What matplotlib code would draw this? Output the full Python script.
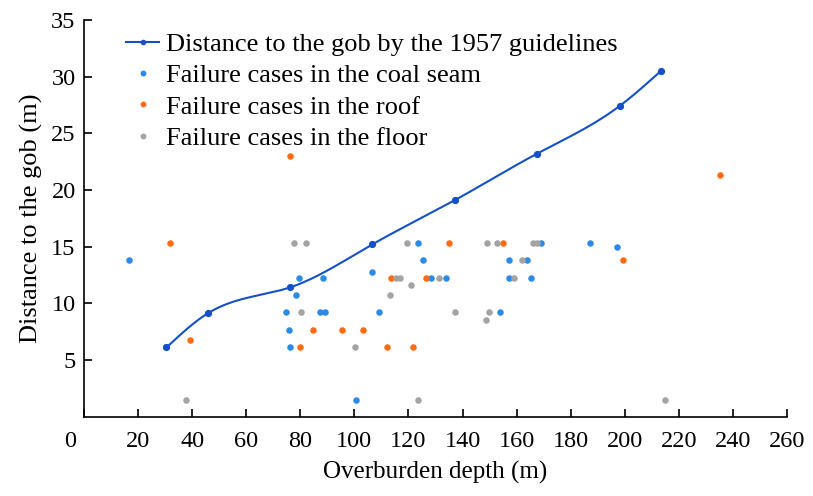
import numpy as np
import matplotlib
matplotlib.use("Agg")
import matplotlib.pyplot as plt
import matplotlib.transforms as mtransforms

plt.rcParams['font.family'] = ['Liberation Serif', 'DejaVu Serif']

# 1957 guideline curve (depth m, distance m)
Guide_depth = [30.5, 45.7, 76.2, 106.7, 137.2, 167.6, 198.1, 213.4]
Guide_dist = [6.1, 9.1, 11.4, 15.2, 19.1, 23.2, 27.4, 30.5]

# failure cases in the coal seam
Coal_depth = [16.8, 74.6, 75.9, 76.2, 78.4, 79.4, 87.3, 88.3, 89.1, 100.5, 106.4, 109.1,
              123.7, 125.2, 128.2, 133.9, 153.8, 157.3, 157.3, 163.7, 165.2, 169.2, 187.3, 197.1]
Coal_dist = [13.8, 9.2, 7.6, 6.1, 10.7, 12.2, 9.2, 12.2, 9.2, 1.5, 12.8, 9.2,
             15.3, 13.8, 12.2, 12.2, 9.2, 13.8, 12.2, 13.8, 12.2, 15.3, 15.3, 15.0]

# failure cases in the roof
Roof_depth = [31.7, 39.2, 76.2, 79.9, 84.6, 95.4, 103.3, 112.2, 113.4, 121.8, 126.4,
              135.1, 155.1, 199.2, 235.2]
Roof_dist = [15.3, 6.8, 23.0, 6.1, 7.6, 7.6, 7.6, 6.1, 12.2, 6.1, 12.2,
             15.3, 15.3, 13.8, 21.3]

# failure cases in the floor
Floor_depth = [37.8, 77.8, 80.2, 82.1, 100.2, 113.2, 115.5, 116.8, 119.3, 121.0, 123.4,
               131.4, 137.4, 148.6, 149.2, 149.8, 152.9, 159.0, 161.9, 166.2, 167.6, 215.0]
Floor_dist = [1.5, 15.3, 9.2, 15.3, 6.1, 10.7, 12.2, 12.2, 15.3, 11.6, 1.5,
              12.2, 9.2, 8.5, 15.3, 9.2, 15.3, 12.2, 13.8, 15.3, 15.3, 1.5]


def natural_spline(x, y, xs):
    #natural cubic spline, just for drawing the smooth guideline
    x = np.asarray(x, float)
    y = np.asarray(y, float)
    n = len(x)
    h = np.diff(x)
    A = np.zeros((n, n))
    b = np.zeros(n)
    A[0, 0] = 1
    A[-1, -1] = 1
    for i in range(1, n - 1):
        A[i, i - 1] = h[i - 1]
        A[i, i] = 2 * (h[i - 1] + h[i])
        A[i, i + 1] = h[i]
        b[i] = 3 * ((y[i + 1] - y[i]) / h[i] - (y[i] - y[i - 1]) / h[i - 1])
    c = np.linalg.solve(A, b)
    idx = np.clip(np.searchsorted(x, xs) - 1, 0, n - 2)
    dx = xs - x[idx]
    bb = (y[idx + 1] - y[idx]) / h[idx] - h[idx] * (2 * c[idx] + c[idx + 1]) / 3
    dd = (c[idx + 1] - c[idx]) / (3 * h[idx])
    return y[idx] + bb * dx + c[idx] * dx ** 2 + dd * dx ** 3


LineColor = "#1450c8"
BlueColor = "#2b8ae6"
OrangeColor = "#ff6a13"
GrayColor = "#a3a3a3"

fig = plt.figure(figsize=(8.13, 4.96), dpi=100)
ax = fig.add_axes([0.1033, 0.16, 0.8647, 0.80])

xs = np.linspace(Guide_depth[0], Guide_depth[-1], 300)
ax.plot(xs, natural_spline(Guide_depth, Guide_dist, xs), color=LineColor, lw=1.5, zorder=3)
ax.plot(Guide_depth, Guide_dist, "o", color=LineColor, ms=4.2, zorder=4)
h_line, = ax.plot([], [], "-o", color=LineColor, lw=1.5, ms=3)

ax.scatter(Coal_depth, Coal_dist, s=22, color=BlueColor, lw=0, zorder=2)
ax.scatter(Roof_depth, Roof_dist, s=22, color=OrangeColor, lw=0, zorder=2)
ax.scatter(Floor_depth, Floor_dist, s=22, color=GrayColor, lw=0, zorder=2)
h_coal, = ax.plot([], [], "o", color=BlueColor, ms=3.2)
h_roof, = ax.plot([], [], "o", color=OrangeColor, ms=3.2)
h_floor, = ax.plot([], [], "o", color=GrayColor, ms=3.2)

ax.set_xlim(0, 260)
ax.set_ylim(0, 35)
ax.set_xticks(np.arange(0, 261, 20))
ax.set_yticks(np.arange(5, 36, 5))
ax.spines["top"].set_visible(False)
ax.spines["right"].set_visible(False)
for sp in ["left", "bottom"]:
    ax.spines[sp].set_linewidth(1.2)
ax.tick_params(axis="x", direction="in", length=5.5, width=1.2, pad=10, labelsize=17.5)
ax.tick_params(axis="y", direction="in", length=6, width=1.2, pad=6, labelsize=17.5)

# the "0" label sits left of the corner in the original
offset = mtransforms.ScaledTranslation(-14 / 100, 0, fig.dpi_scale_trans)
lbl0 = ax.get_xticklabels()[0]
lbl0.set_transform(lbl0.get_transform() + offset)

ax.set_xlabel("Overburden depth (m)", fontsize=18, labelpad=7)
ax.set_ylabel("Distance to the gob (m)", fontsize=19, labelpad=6)

ax.legend([h_line, h_coal, h_roof, h_floor],
          ["Distance to the gob by the 1957 guidelines", "Failure cases in the coal seam",
           "Failure cases in the roof", "Failure cases in the floor"],
          loc="upper left", bbox_to_anchor=(0.045, 0.995), frameon=False, fontsize=19,
          handlelength=1.25, handletextpad=0.25, labelspacing=0.3, borderaxespad=0)

fig.savefig("out.png", dpi=100)
